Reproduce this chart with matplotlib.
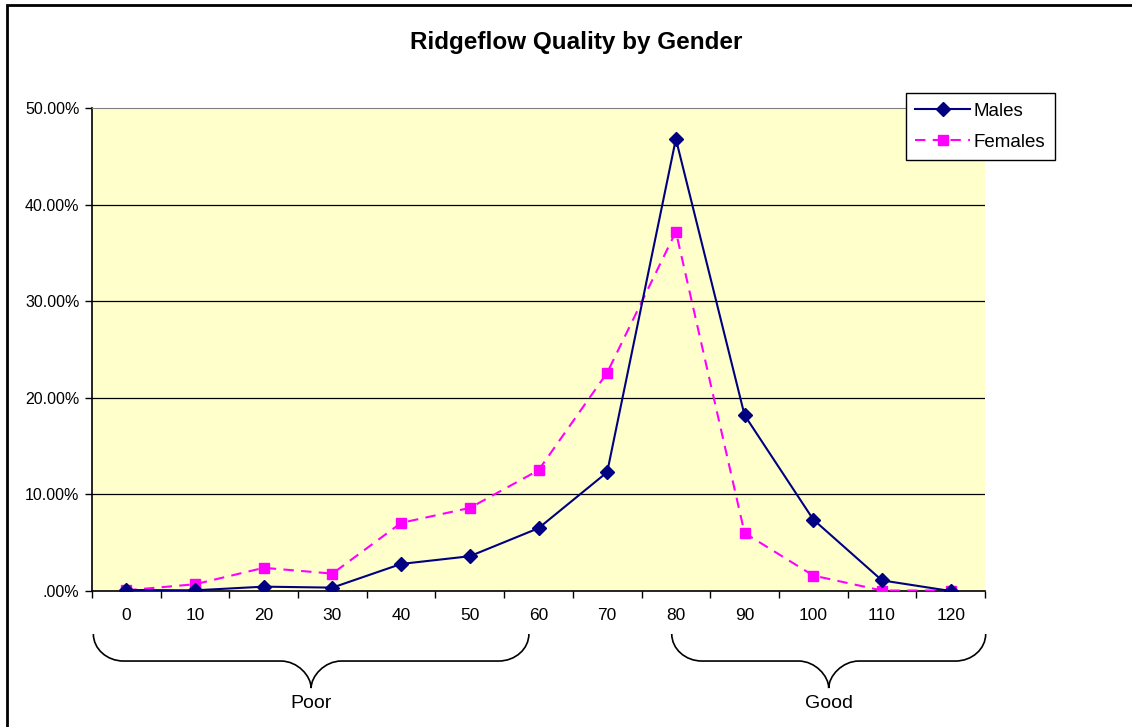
import numpy as np
import matplotlib
matplotlib.use("Agg")
import matplotlib.pyplot as plt
from matplotlib.path import Path
from matplotlib.patches import PathPatch, Rectangle
import matplotlib.transforms as mtransforms

plt.rcParams['font.family'] = ['Liberation Sans', 'DejaVu Sans']

# data (percent)
categories = ['0', '10', '20', '30', '40', '50', '60', '70', '80', '90', '100', '110', '120']
males = [0.1, 0.07, 0.45, 0.35, 2.8, 3.6, 6.5, 12.3, 46.8, 18.2, 7.4, 1.1, 0.0]
females = [0.07, 0.7, 2.4, 1.8, 7.05, 8.6, 12.5, 22.6, 37.2, 6.0, 1.6, 0.05, 0.05]
y_ticks = [0, 10, 20, 30, 40, 50]
y_labels = ['.00%', '10.00%', '20.00%', '30.00%', '40.00%', '50.00%']
groups = [('Poor', -0.48, 5.86), ('Good', 7.94, 12.51)]

W, H = 1132, 727
fig = plt.figure(figsize=(W / 100, H / 100), dpi=100)
ax = fig.add_axes([92 / W, 1 - 591 / H, (985 - 92) / W, (591 - 108) / H])
ax.set_facecolor('#FFFFCC')

x = np.arange(len(categories))
ax.plot(x, males, color='#000080', lw=1.5, marker='D', ms=7, label='Males', zorder=4)
ax.plot(x, females, color='#FF00FF', lw=1.5, ls=(0, (5, 3.5)), marker='s', ms=7,
        label='Females', zorder=3)

ax.set_xlim(-0.5, len(categories) - 0.5)
ax.set_ylim(0, 50)
ax.set_yticks(y_ticks)
ax.set_yticklabels(y_labels, fontsize=11.5)
for yv in y_ticks[1:-1]:
    ax.axhline(yv, color='black', lw=0.9, zorder=1)

ax.set_xticks(x)
ax.set_xticklabels(categories, fontsize=12.5)
ax.set_xticks(np.arange(len(categories) + 1) - 0.5, minor=True)
ax.tick_params(axis='x', which='major', length=0, pad=12)
ax.tick_params(axis='x', which='minor', length=5, direction='out', width=1)
ax.tick_params(axis='y', length=5, direction='out', width=1, pad=4)

ax.spines['right'].set_visible(False)
ax.spines['top'].set_color('#808080')
ax.spines['left'].set_linewidth(1.2)
ax.spines['bottom'].set_linewidth(1.2)

leg = ax.legend(loc='upper left', bbox_to_anchor=(906 / W, 1 - 93 / H),
                bbox_transform=fig.transFigure, fontsize=13.5, frameon=True,
                fancybox=False, edgecolor='black', framealpha=1,
                handlelength=2.9, borderpad=0.5, labelspacing=0.75,
                handletextpad=0.2, borderaxespad=0)
leg.get_frame().set_linewidth(1.0)

fig.text(576 / W, 1 - 43 / H, 'Ridgeflow Quality by Gender', ha='center', va='center',
         fontsize=17.5, fontweight='bold')

# curly braces under category groups
trans = mtransforms.blended_transform_factory(ax.transData, ax.transAxes)
ytop, ymid, ytip = -0.089, -0.145, -0.201
rx, ry = 0.44, ymid - ytop   # corner radii (data units, axes fraction)
k = 0.552
for name, x0, x1 in groups:
    xc = (x0 + x1) / 2
    verts = [(x0, ytop),
             (x0, ytop + k * ry), (x0 + (1 - k) * rx, ymid), (x0 + rx, ymid),
             (xc - rx, ymid),
             (xc - (1 - k) * rx, ymid), (xc, ymid + k * ry), (xc, ytip),
             (xc, ymid + k * ry), (xc + (1 - k) * rx, ymid), (xc + rx, ymid),
             (x1 - rx, ymid),
             (x1 - (1 - k) * rx, ymid), (x1, ytop + k * ry), (x1, ytop)]
    codes = [Path.MOVETO,
             Path.CURVE4, Path.CURVE4, Path.CURVE4,
             Path.LINETO,
             Path.CURVE4, Path.CURVE4, Path.CURVE4,
             Path.CURVE4, Path.CURVE4, Path.CURVE4,
             Path.LINETO,
             Path.CURVE4, Path.CURVE4, Path.CURVE4]
    ax.add_patch(PathPatch(Path(verts, codes), transform=trans, fill=False,
                           lw=1.2, color='black', clip_on=False))
    ax.text(xc, -0.232, name, transform=trans, ha='center', va='center', fontsize=14)

# chart area border
fig.patches.append(Rectangle((7 / W, -0.2), 1.2, 1.2 - 5 / H, transform=fig.transFigure,
                             fill=False, lw=2, edgecolor='black'))

fig.savefig('out.png', dpi=100)
